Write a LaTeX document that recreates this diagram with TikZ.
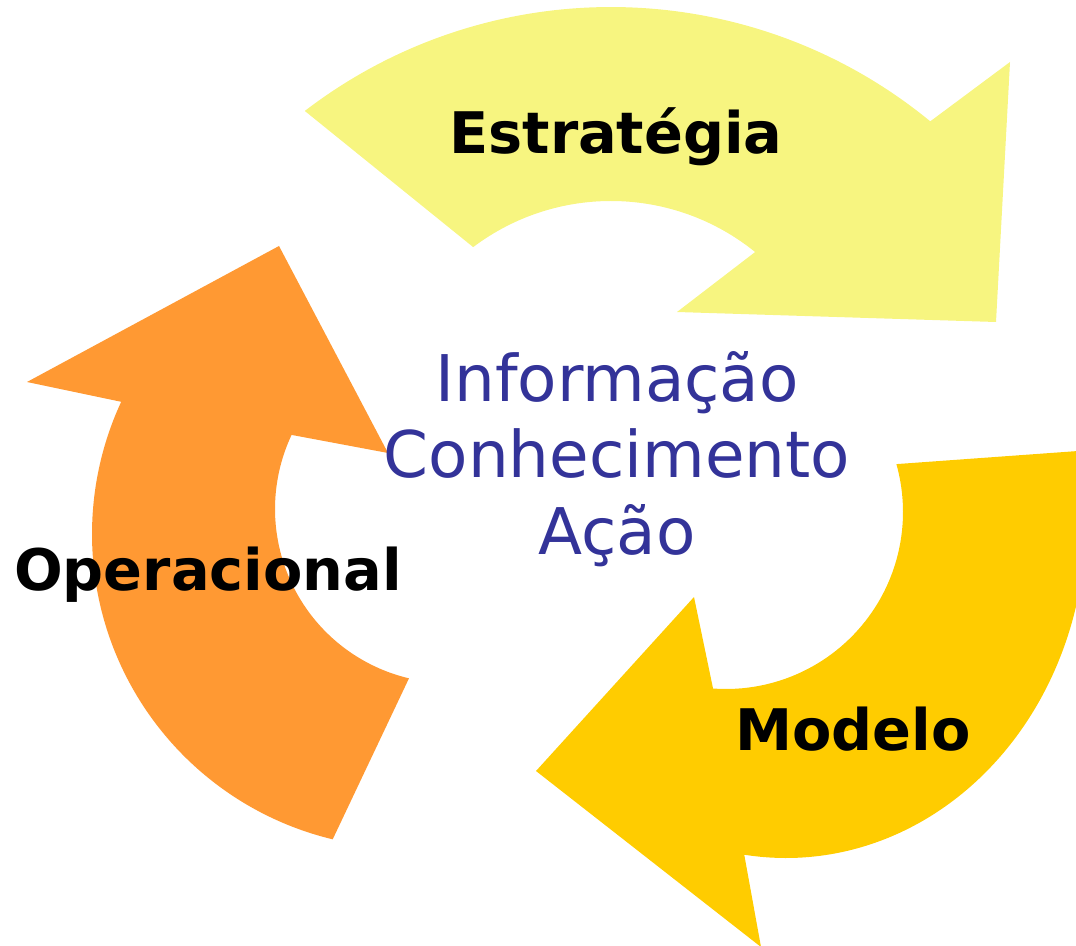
\documentclass[tikz,border=0pt]{standalone}
\usepackage{fontspec}
\setmainfont{DejaVu Sans}

\begin{document}
\begin{tikzpicture}[x=0.01cm,y=-0.01cm,
	rotulo/.style={font=\fontsize{16.3}{19}\selectfont\bfseries,text=black,anchor=base,inner sep=0pt},
	centro/.style={font=\fontsize{18.3}{22}\selectfont,text=azul,anchor=base,inner sep=0pt}]
	\definecolor{amarelo}{RGB}{247,245,128}
	\definecolor{ouro}{RGB}{255,204,0}
	\definecolor{laranja}{RGB}{255,153,51}
	\definecolor{azul}{RGB}{51,51,153}
	
	\useasboundingbox (0,0) rectangle (1076,946);
	\clip (0,0) rectangle (1076,946);
	
	%seta de cima: estrategia
	\fill[amarelo] ([shift={(232.5:503)}]611,510) arc[start angle=232.5, end angle=309.4, radius=503]
	-- (1010,62) -- (996,322) -- (677,312)
	-- ([shift={(309:229)}]611,430) arc[start angle=309, end angle=233, radius=229] -- cycle;
	
	%seta da direita: modelo (sai da margem)
	\fill[ouro] ([shift={(-11.8:300 and 338)}]786,520) arc[start angle=-11.8, end angle=98, x radius=300, y radius=338]
	-- (761,947) -- (536,771) -- (694,597)
	-- ([shift={(94.2:177)}]726,512) arc[start angle=94.2, end angle=-15.7, radius=177] -- cycle;
	
	%seta da esquerda: operacional
	\fill[laranja] ([shift={(103.5:314)}]406,534) arc[start angle=103.5, end angle=204.9, radius=314]
	-- (27,382) -- (279,246) -- (388,453)
	-- ([shift={(205.2:174)}]449,509) arc[start angle=205.2, end angle=103.3, radius=174] -- cycle;
	
	%rotulos das setas
	\node[rotulo] (estrategia) at (616,154) {Estratégia};
	\node[rotulo] (modelo) at (853,750) {Modelo};
	\node[rotulo] (operacional) at (208,590) {Operacional};
	
	%texto do meio
	\node[centro] (informacao) at (617,402) {Informação};
	\node[centro] (conhecimento) at (617,477) {Conhecimento};
	\node[centro] (acao) at (617,554) {Ação};
\end{tikzpicture}
\end{document}
